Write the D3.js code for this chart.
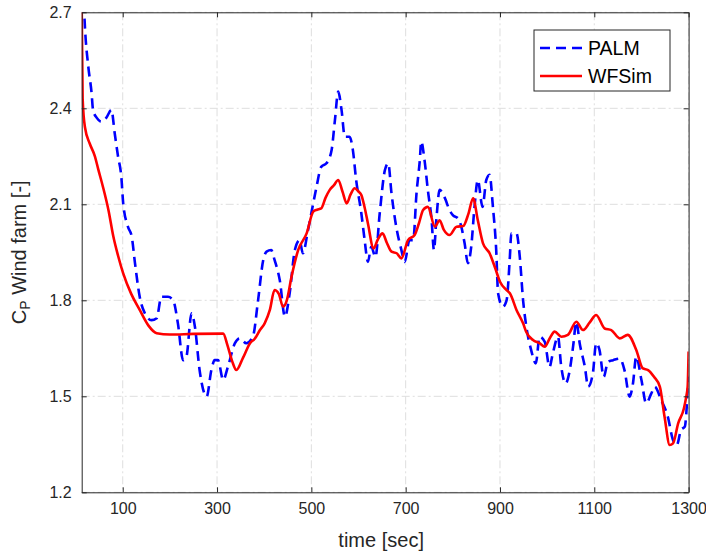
<!DOCTYPE html>
<html>
<head>
<meta charset="utf-8">
<script src="https://cdn.jsdelivr.net/npm/d3@7"></script>
<style>
html,body{margin:0;padding:0;background:#fff;}
svg{display:block;font-family:"Liberation Sans",Arial,sans-serif;}
</style>
</head>
<body>
<svg id="chart" width="706" height="553"></svg>
<script>
// ---- data ----
const wfsimTime = [13,15,20,30,41,48,58,70,80,90,101,118,136,155,172,200,250,313,322,332,341,355,370,380,391,401,412,422,431,440,448,458,472,490,504,512,521,530,539,548,557,566,575,583,592,600,606,613,620,632,641,651,660,670,681,691,705,719,728,737,747,762,772,781,793,808,822,833,843,853,864,878,890,900,914,921,935,949,956,970,984,995,1005,1016,1030,1044,1062,1076,1090,1104,1122,1136,1154,1171,1189,1203,1214,1227,1239,1249,1260,1267,1278,1290,1295,1298,1300];
const wfsimCp = [2.72,2.43,2.34,2.29,2.25,2.21,2.155,2.08,2.0,1.94,1.884,1.82,1.77,1.72,1.697,1.693,1.695,1.696,1.66,1.61,1.582,1.62,1.666,1.68,1.707,1.728,1.77,1.832,1.82,1.78,1.80,1.874,1.957,2.009,2.077,2.083,2.087,2.12,2.145,2.16,2.176,2.14,2.103,2.13,2.15,2.14,2.129,2.09,2.04,1.962,1.99,2.009,1.98,1.952,1.947,1.931,1.988,2.004,2.04,2.082,2.092,2.03,2.05,2.02,2.004,2.03,2.032,2.07,2.119,2.05,1.978,1.947,1.90,1.858,1.832,1.822,1.77,1.728,1.70,1.676,1.666,1.655,1.68,1.702,1.686,1.692,1.733,1.707,1.73,1.754,1.712,1.707,1.681,1.692,1.645,1.587,1.582,1.56,1.53,1.436,1.348,1.353,1.416,1.462,1.499,1.53,1.64];

const palmTime = [16,20,27,34,37,45,55,65,76,83,90,97,101,111,119,126,136,147,161,172,182,196,207,217,228,235,246,253,263,278,288,295,302,313,323,338,348,362,376,387,398,405,415,422,433,444,454,465,475,482,493,504,511,521,532,543,550,557,564,571,581,588,595,606,613,620,627,636,645,656,663,670,680,691,698,708,716,723,730,733,740,747,755,760,765,772,783,793,800,811,818,825,832,839,846,853,863,871,878,885,892,896,906,914,921,924,935,942,949,956,966,976,984,995,1005,1012,1023,1030,1039,1048,1055,1062,1069,1080,1087,1097,1104,1111,1120,1129,1140,1154,1164,1175,1182,1189,1200,1210,1221,1228,1242,1256,1267,1275,1284,1292,1297,1300];
const palmCp = [2.78,2.65,2.53,2.447,2.395,2.37,2.358,2.37,2.395,2.322,2.25,2.186,2.103,2.03,2.0,1.916,1.811,1.759,1.738,1.744,1.811,1.811,1.8,1.728,1.613,1.624,1.759,1.718,1.582,1.499,1.582,1.613,1.613,1.551,1.592,1.666,1.681,1.666,1.686,1.8,1.926,1.952,1.957,1.926,1.863,1.749,1.822,1.957,1.988,1.947,2.02,2.103,2.155,2.217,2.228,2.27,2.363,2.452,2.395,2.311,2.311,2.27,2.176,2.072,1.988,1.92,1.967,1.936,2.072,2.207,2.228,2.134,2.03,1.957,1.92,1.988,1.988,2.134,2.238,2.296,2.238,2.145,2.051,1.957,2.051,2.145,2.12,2.082,2.066,2.056,2.03,1.978,1.916,1.967,2.092,2.176,2.092,2.176,2.192,2.092,1.957,1.822,1.78,1.8,1.936,2.009,2.009,1.936,1.8,1.717,1.645,1.603,1.686,1.67,1.592,1.634,1.686,1.592,1.54,1.582,1.655,1.733,1.666,1.592,1.53,1.572,1.666,1.645,1.561,1.608,1.613,1.618,1.582,1.499,1.54,1.624,1.551,1.478,1.509,1.53,1.488,1.436,1.363,1.348,1.395,1.405,1.488,1.561];

const xTicks = [100,300,500,700,900,1100,1300];
const yTicks = [1.2,1.5,1.8,2.1,2.4,2.7];
const seriesNames = ["PALM","WFSim"];
const seriesColors = ["#0000ff","#ff0000"];

// ---- layout ----
const L = 81.7, R = 688.6, T = 12.3, B = 492.3;
const svg = d3.select("#chart");
const x = d3.scaleLinear().domain([13,1300]).range([L,R]);
const y = d3.scaleLinear().domain([1.2,2.7]).range([B,T]);
const axisColor = "#262626";

// grid
const grid = svg.append("g");
grid.selectAll(".gx").data(xTicks).enter().append("line")
  .attr("x1",d=>x(d)).attr("x2",d=>x(d)).attr("y1",T).attr("y2",B)
  .attr("stroke","#dedede").attr("stroke-width",1).attr("stroke-dasharray","8,3,2,3");
grid.selectAll(".gy").data(yTicks).enter().append("line")
  .attr("x1",L).attr("x2",R).attr("y1",d=>y(d)).attr("y2",d=>y(d))
  .attr("stroke","#dedede").attr("stroke-width",1).attr("stroke-dasharray","8,3,2,3");

// clip
svg.append("clipPath").attr("id","clip").append("rect")
  .attr("x",L).attr("y",T).attr("width",R-L).attr("height",B-T);

const line = d3.line().x(d=>x(d[0])).y(d=>y(d[1])).curve(d3.curveMonotoneX);
const palm = palmTime.map((t,i)=>[t,palmCp[i]]);
const wfsim = wfsimTime.map((t,i)=>[t,wfsimCp[i]]);

const plot = svg.append("g").attr("clip-path","url(#clip)");
plot.append("path").datum(palm).attr("d",line).attr("fill","none")
  .attr("stroke",seriesColors[0]).attr("stroke-width",2.6).attr("stroke-dasharray","10,6");
plot.append("path").datum(wfsim).attr("d",line).attr("fill","none")
  .attr("stroke",seriesColors[1]).attr("stroke-width",2.6);

// axes
const xAxisB = d3.axisBottom(x).tickValues(xTicks).tickSizeInner(-5).tickSizeOuter(0).tickPadding(10).tickFormat(d3.format("d"));
const xAxisT = d3.axisTop(x).tickValues(xTicks).tickSizeInner(-5).tickSizeOuter(0).tickFormat("");
const yAxisL = d3.axisLeft(y).tickValues(yTicks).tickSizeInner(-5).tickSizeOuter(0).tickPadding(10).tickFormat(d3.format(".1f"));
const yAxisR = d3.axisRight(y).tickValues(yTicks).tickSizeInner(-5).tickSizeOuter(0).tickFormat("");

function styleAxis(g){
  g.select(".domain").attr("stroke",axisColor).attr("stroke-width",1);
  g.selectAll(".tick line").attr("stroke",axisColor);
  g.selectAll(".tick text").attr("fill",axisColor).attr("font-size",16).attr("font-family","'Liberation Sans',Arial,sans-serif");
}
svg.append("g").attr("transform",`translate(0,${B})`).call(xAxisB).call(styleAxis);
svg.append("g").attr("transform",`translate(0,${T})`).call(xAxisT).call(styleAxis);
svg.append("g").attr("transform",`translate(${L},0)`).call(yAxisL).call(styleAxis);
svg.append("g").attr("transform",`translate(${R},0)`).call(yAxisR).call(styleAxis);

// axis labels
svg.append("text").attr("x",(L+R)/2 - 4).attr("y",547).attr("text-anchor","middle")
  .attr("font-size",20).attr("fill",axisColor).text("time [sec]");
const yl = svg.append("text").attr("transform",`translate(26,${(T+B)/2}) rotate(-90)`)
  .attr("text-anchor","middle").attr("font-size",20).attr("fill",axisColor);
yl.append("tspan").text("C");
yl.append("tspan").attr("font-size",14).attr("dy",4).text("P");
yl.append("tspan").attr("dy",-4).text(" Wind farm [-]");

// legend
const lg = svg.append("g");
lg.append("rect").attr("x",534).attr("y",30).attr("width",136).attr("height",61)
  .attr("fill","#fff").attr("stroke",axisColor).attr("stroke-width",1);
seriesNames.forEach((n,i)=>{
  const yy = 48 + i*28;
  lg.append("line").attr("x1",540).attr("x2",582).attr("y1",yy).attr("y2",yy)
    .attr("stroke",seriesColors[i]).attr("stroke-width",2.6)
    .attr("stroke-dasharray", i===0 ? "10,6" : null);
  lg.append("text").attr("x",588).attr("y",yy+7).attr("font-size",19.5).attr("fill","#000").text(n);
});
</script>
</body>
</html>
